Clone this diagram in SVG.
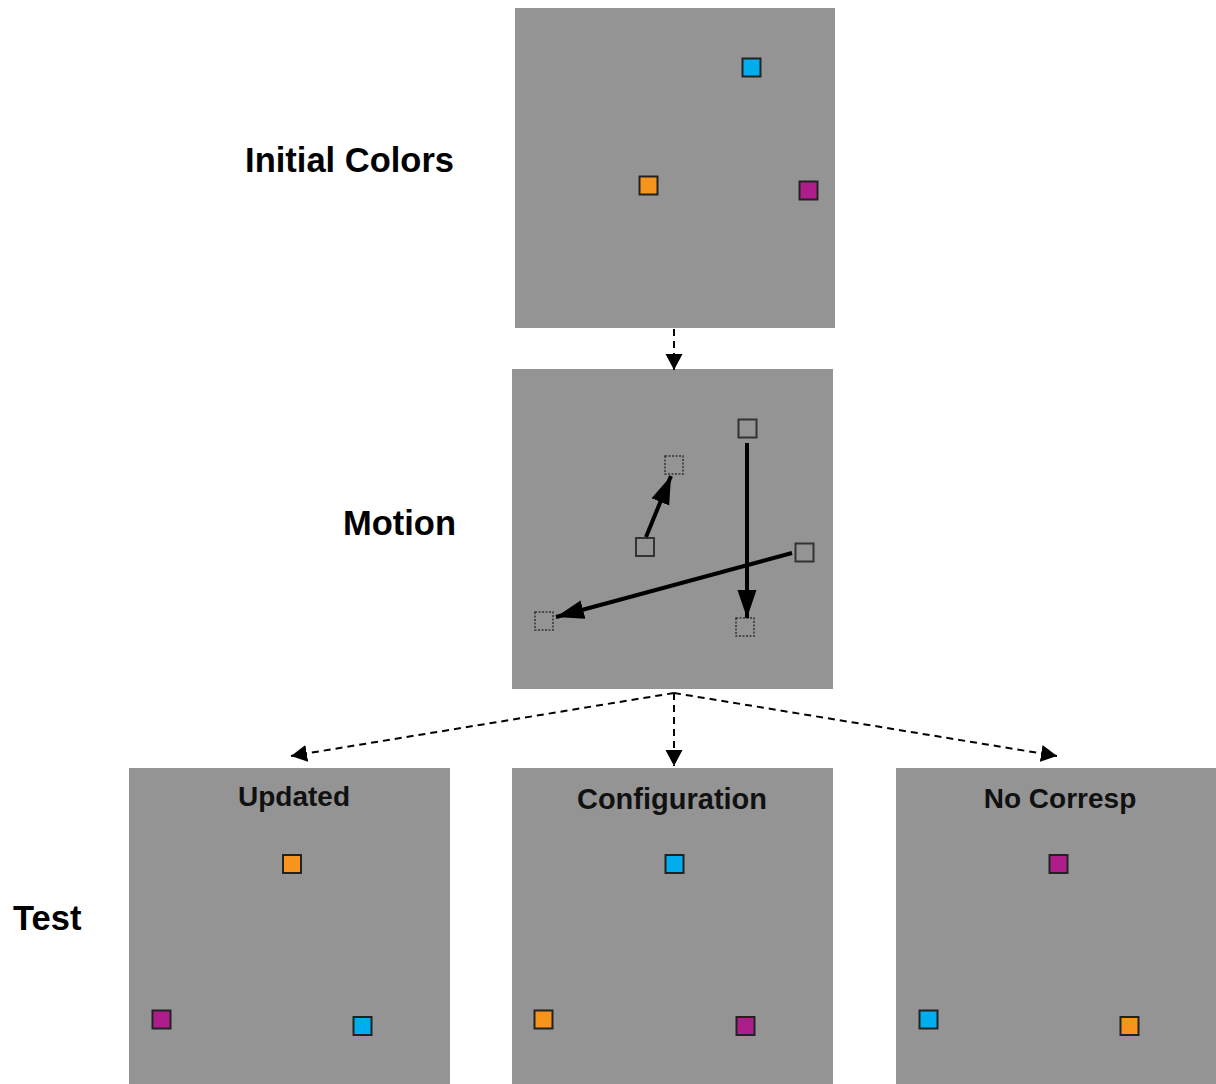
<svg xmlns="http://www.w3.org/2000/svg" width="1216" height="1084" viewBox="0 0 1216 1084">
<style>
.panel{fill:#949494}
.lbl{font-family:"Liberation Sans",Arial,sans-serif;font-weight:bold;font-size:34.5px;fill:#000}
.plbl{font-family:"Liberation Sans",Arial,sans-serif;font-weight:bold;font-size:28px;fill:#111;text-anchor:middle}
.sq{stroke:#222;stroke-width:2}
.cy{fill:#00AEEF}
.or{fill:#F7941D}
.mg{fill:#AE1E8A}
.ghost{fill:none;stroke:#333;stroke-width:2}
.dot{fill:none;stroke:#333;stroke-width:1.5;stroke-dasharray:2,1.5}
.dash{stroke:#000;stroke-width:2;stroke-dasharray:7,5;fill:none}
.mv{stroke:#000;stroke-width:4;fill:none}
</style>
<defs>
<marker id="dh" markerUnits="userSpaceOnUse" markerWidth="17" markerHeight="18" refX="16" refY="8.5" orient="auto" viewBox="0 0 17 18">
<path d="M0,0 L16,8.5 L0,17 z" fill="#000"/>
</marker>
<marker id="sh" markerUnits="userSpaceOnUse" markerWidth="29" markerHeight="20" refX="28" refY="9.5" orient="auto" viewBox="0 0 29 20">
<path d="M0,0 L28,9.5 L0,19 z" fill="#000"/>
</marker>
</defs>

<g id="labels">
<text class="lbl" x="454" y="172" text-anchor="end">Initial Colors</text>
<text class="lbl" x="456" y="535" text-anchor="end">Motion</text>
<text class="lbl" x="13" y="930">Test</text>
</g>

<g id="initial">
<rect class="panel" x="515" y="8" width="320" height="320"/>
<rect class="sq cy" x="742.5" y="58.5" width="18" height="18"/>
<rect class="sq or" x="639.5" y="176.5" width="18" height="18"/>
<rect class="sq mg" x="799.5" y="181.5" width="18" height="18"/>
</g>

<g id="motion">
<rect class="panel" x="512" y="369" width="321" height="320"/>
<rect class="ghost" x="738.5" y="419.5" width="18" height="18"/>
<rect class="ghost" x="636" y="538" width="18" height="18"/>
<rect class="ghost" x="795.5" y="543.5" width="18" height="18"/>
<rect class="dot" x="665" y="456" width="18" height="18"/>
<rect class="dot" x="535" y="612" width="18" height="18"/>
<rect class="dot" x="736" y="618" width="18" height="18"/>
<line class="mv" x1="747" y1="443" x2="747" y2="618" marker-end="url(#sh)"/>
<line class="mv" x1="646" y1="537" x2="671" y2="476" marker-end="url(#sh)"/>
<line class="mv" x1="792" y1="553" x2="556" y2="617" marker-end="url(#sh)"/>
</g>

<g id="updated">
<rect class="panel" x="129" y="768" width="321" height="316"/>
<text class="plbl" x="294" y="806">Updated</text>
<rect class="sq or" x="283" y="855" width="18" height="18"/>
<rect class="sq mg" x="152.5" y="1010.5" width="18" height="18"/>
<rect class="sq cy" x="353.5" y="1017" width="18" height="18"/>
</g>

<g id="configuration">
<rect class="panel" x="512" y="768" width="321" height="316"/>
<text class="plbl" x="672" y="809" style="font-size:29px">Configuration</text>
<rect class="sq cy" x="665.5" y="855" width="18" height="18"/>
<rect class="sq or" x="534.5" y="1010.5" width="18" height="18"/>
<rect class="sq mg" x="736.5" y="1017" width="18" height="18"/>
</g>

<g id="nocorresp">
<rect class="panel" x="896" y="768" width="320" height="316"/>
<text class="plbl" x="1060" y="808">No Corresp</text>
<rect class="sq mg" x="1049.5" y="855" width="18" height="18"/>
<rect class="sq cy" x="919.5" y="1010.5" width="18" height="18"/>
<rect class="sq or" x="1120.5" y="1017" width="18" height="18"/>
</g>

<g id="connectors">
<line class="dash" x1="674" y1="329" x2="674" y2="370" marker-end="url(#dh)"/>
<line class="dash" x1="674" y1="693" x2="674" y2="766" marker-end="url(#dh)"/>
<line class="dash" x1="674" y1="693" x2="291" y2="756" marker-end="url(#dh)"/>
<line class="dash" x1="674" y1="693" x2="1057" y2="756" marker-end="url(#dh)"/>
</g>
</svg>
